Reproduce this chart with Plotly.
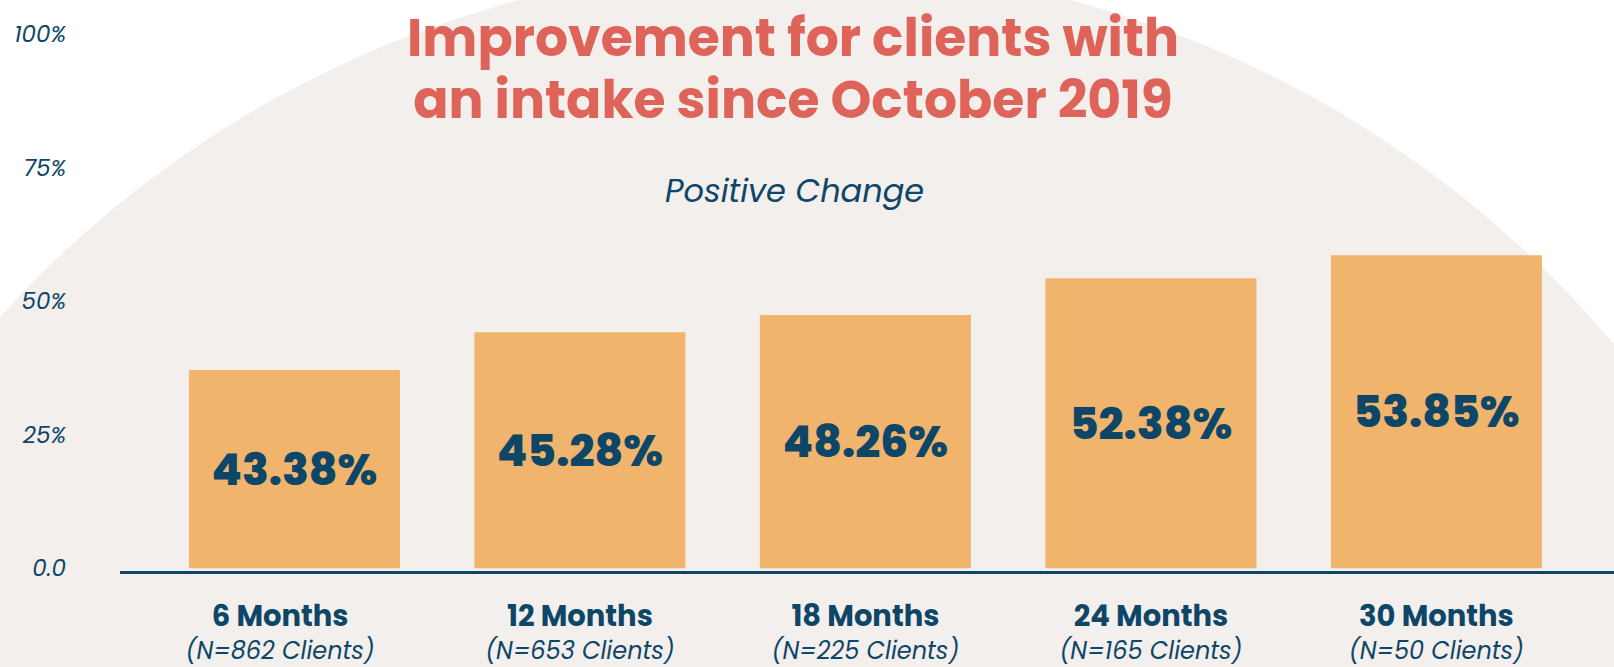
import plotly.graph_objects as go

# ---- data ----
categories = ["6 Months", "12 Months", "18 Months", "24 Months", "30 Months"]
client_counts = ["(N=862 Clients)", "(N=653 Clients)", "(N=225 Clients)", "(N=165 Clients)", "(N=50 Clients)"]
bar_heights = [37.1, 44.2, 47.4, 54.3, 58.6]          # drawn heights (% of axis)
bar_labels = ["43.38%", "45.28%", "48.26%", "52.38%", "53.85%"]
y_tick_vals = [0, 25, 50, 75, 100]
y_tick_text = ["0.0", "25%", "50%", "75%", "100%"]

TITLE_LINES = ["Improvement for clients with", "an intake since October 2019"]
SUBTITLE = "Positive Change"

NAVY = "#0E4668"
BAR = "#F0B46C"
CORAL = "#DE6459"
BEIGE = "#F2EFEC"
FONT = "Poppins, Inter, 'Noto Sans', sans-serif"

W, H = 1614, 667
ML, MR, MT, MB = 120, 0, 34, 96
plot_w = W - ML - MR
plot_h = H - MT - MB

def px_x(px):
    return (px - ML) / plot_w

def px_y(py):
    return (H - MB - py) / plot_h

x_pos = list(range(len(categories)))
# the first category label sits a little left of its bar in the original
tick_shift = [-0.05, 0, 0, 0, 0]

tick_text = [
    f"<span style='font-size:29px'><b>{c}</b></span><br><span style='font-size:24px'><i>{n}</i></span>"
    for c, n in zip(categories, client_counts)
]

fig = go.Figure()
fig.add_trace(go.Bar(
    x=x_pos,
    y=bar_heights,
    text=bar_labels,
    textposition="inside",
    insidetextanchor="middle",
    textangle=0,
    constraintext="none",
    textfont=dict(family=FONT, size=44, color=NAVY, weight=800),
    marker=dict(color=BAR, line=dict(width=0)),
    hoverinfo="skip",
    showlegend=False,
))

# big beige circle behind the chart
cx, cy, R = 795, 1036, 1072
fig.add_shape(type="circle", xref="paper", yref="paper",
              x0=px_x(cx - R), x1=px_x(cx + R),
              y0=px_y(cy + R), y1=px_y(cy - R),
              fillcolor=BEIGE, line=dict(width=0), layer="below")

title_html = "<br>".join(f"<span style='font-size:52px'><b>{t}</b></span>" for t in TITLE_LINES)
fig.add_annotation(text=title_html, xref="paper", yref="paper",
                   x=px_x(793), y=px_y(68), xanchor="center", yanchor="middle",
                   showarrow=False,
                   font=dict(family=FONT, size=48, color=CORAL, weight=800))
fig.add_annotation(text=f"<i>{SUBTITLE}</i>", xref="paper", yref="paper",
                   x=px_x(794), y=px_y(191), xanchor="center", yanchor="middle",
                   showarrow=False,
                   font=dict(family=FONT, size=32, color=NAVY))

fig.update_layout(
    width=W, height=H,
    margin=dict(l=ML, r=MR, t=MT, b=MB, pad=0, autoexpand=False),
    paper_bgcolor="white",
    plot_bgcolor="rgba(0,0,0,0)",
    bargap=0.261,
    xaxis=dict(
        range=[-0.611, 4.622],
        automargin=False,
        tickmode="array",
        tickvals=[p + s for p, s in zip(x_pos, tick_shift)],
        ticktext=tick_text,
        tickfont=dict(family=FONT, size=25, color=NAVY),
        showgrid=False, zeroline=False,
        showline=True, linecolor=NAVY, linewidth=3,
        ticks="", ticklabelstandoff=22,
    ),
    yaxis=dict(
        range=[-0.5, 100],
        automargin=False,
        tickmode="array",
        tickvals=y_tick_vals,
        ticktext=[f"<i>{t}</i>" for t in y_tick_text],
        tickfont=dict(family=FONT, size=23, color=NAVY),
        showgrid=False, zeroline=False, showline=False,
        ticks="", ticklabelstandoff=53,
    ),
)

fig.write_html("out.html", config={"displayModeBar": False},
               post_script="document.body.style.margin='0';")
